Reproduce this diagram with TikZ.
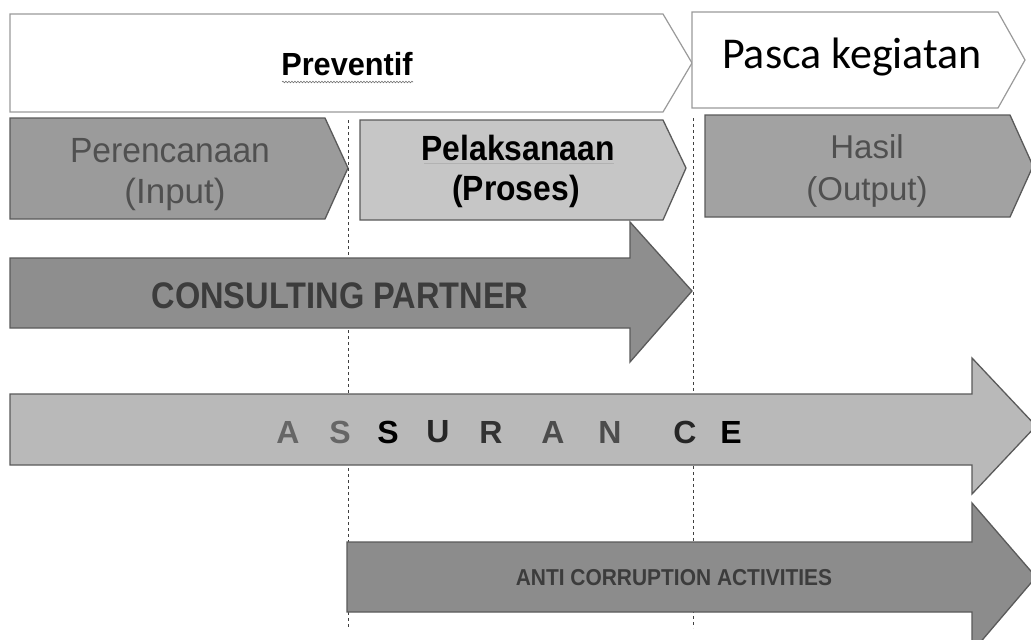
\documentclass[tikz,border=0pt]{standalone}
\usepackage{fontspec}
\setmainfont{Liberation Sans}
\newfontfamily\calib{Carlito}
\usetikzlibrary{decorations.pathmorphing}
\definecolor{edgegray}{HTML}{5A5A5A}
\definecolor{lightedge}{HTML}{9A9A9A}
\definecolor{inputfill}{HTML}{9B9B9B}
\definecolor{procfill}{HTML}{C6C6C6}
\definecolor{outfill}{HTML}{A2A2A2}
\definecolor{consfill}{HTML}{8E8E8E}
\definecolor{assfill}{HTML}{B9B9B9}
\definecolor{antifill}{HTML}{8C8C8C}
\definecolor{softtext}{HTML}{505050}
\definecolor{darktext}{HTML}{3C3C3C}
\tikzset{
  phasebox/.style={draw=lightedge, fill=white, line width=1.2pt, line join=miter},
  stagebox/.style={draw=edgegray, line width=1.3pt, line join=miter},
  bigarrow/.style={draw=edgegray, line width=1.3pt, line join=miter},
  guide/.style={draw=black!75, line width=0.9pt, dash pattern=on 3pt off 3pt},
  lbl/.style={inner sep=0pt, align=center},
  bl/.style={inner sep=0pt, anchor=base},
  softlbl/.style={bl, text=softtext, font=\fontsize{35}{40}\selectfont},
  hardlbl/.style={bl, text=black, font=\fontsize{35}{40}\selectfont\bfseries, xscale=0.91},
  outlbl/.style={bl, text=softtext, font=\fontsize{33}{40}\selectfont},
  asl/.style={inner sep=0pt, font=\fontsize{32}{36}\selectfont\bfseries},
}
\begin{document}
\begin{tikzpicture}[x=1pt,y=-1pt]
\clip (0,0) rectangle (1031,640);
\fill[white] (0,0) rectangle (1031,640);
% phase headers
\draw[phasebox] (10,14) -- (663,14) -- (692,63) -- (663,112) -- (10,112) -- cycle;
\draw[phasebox] (692,12) -- (998,12) -- (1025,60) -- (998,108) -- (692,108) -- cycle;
\node[bl, font=\fontsize{32}{36}\selectfont\bfseries, xscale=0.96] (prev) at (347,75) {Preventif};
\draw[black!55, line width=0.6pt, decorate, decoration={snake, amplitude=0.8pt, segment length=3pt}] (282,82) -- (413,82);
\node[lbl, font=\calib\fontsize{44}{46}\selectfont] (pasca) at (852,57) {Pasca kegiatan};
% stages
\draw[stagebox, fill=inputfill] (10,118) -- (325,118) -- (348,168) -- (325,219) -- (10,219) -- cycle;
\draw[stagebox, fill=procfill] (360,120) -- (663,120) -- (686,168) -- (663,220) -- (360,220) -- cycle;
\draw[stagebox, fill=outfill] (705,115) -- (1010,115) -- (1033,166) -- (1010,217) -- (705,217) -- cycle;
\node[softlbl, xscale=0.96] (input1) at (170,162) {Perencanaan};
\node[softlbl] (input2) at (175,203) {(Input)};
\node[hardlbl] (proc1) at (518,160) {Pelaksanaan};
\draw[black!30, line width=0.6pt] (424,163) -- (614,163);
\node[hardlbl] (proc2) at (516,200) {(Proses)};
\node[outlbl] (out1) at (867,158) {Hasil};
\node[outlbl] (out2) at (867,200) {(Output)};
% guide lines
\coordinate (g1t) at (348,120);
\coordinate (g1b) at (348,628);
\coordinate (g2t) at (693,118);
\coordinate (g2b) at (693,628);
\draw[guide] (g1t) -- (g1b);
\draw[guide] (g2t) -- (g2b);
% big arrows
\draw[bigarrow, fill=consfill] (10,258) -- (630,258) -- (630,222) -- (692,291) -- (630,362) -- (630,328) -- (10,328) -- cycle;
\node[lbl, text=darktext, font=\fontsize{37}{40}\selectfont\bfseries, xscale=0.88] (cons) at (340,296) {CONSULTING PARTNER};
\draw[bigarrow, fill=assfill] (10,394) -- (972,394) -- (972,358) -- (1036,426) -- (972,494) -- (972,465) -- (10,465) -- cycle;
\node[asl, text=black!60] (a1) at (288,432) {A};
\node[asl, text=black!60] (a2) at (340,432) {S};
\node[asl, text=black] (a3) at (388,432) {S};
\node[asl, text=black!85] (a4) at (438,432) {U};
\node[asl, text=black!80] (a5) at (491,432) {R};
\node[asl, text=black!70] (a6) at (553,432) {A};
\node[asl, text=black!70] (a7) at (610,432) {N};
\node[asl, text=black!85] (a8) at (685,432) {C};
\node[asl, text=black] (a9) at (731,432) {E};
\draw[bigarrow, fill=antifill] (347,542) -- (972,542) -- (972,503) -- (1036,577) -- (972,652) -- (972,612) -- (347,612) -- cycle;
\node[lbl, text=darktext, font=\fontsize{23}{26}\selectfont\bfseries, xscale=0.91] (anti) at (674,578) {ANTI CORRUPTION ACTIVITIES};
\end{tikzpicture}
\end{document}
